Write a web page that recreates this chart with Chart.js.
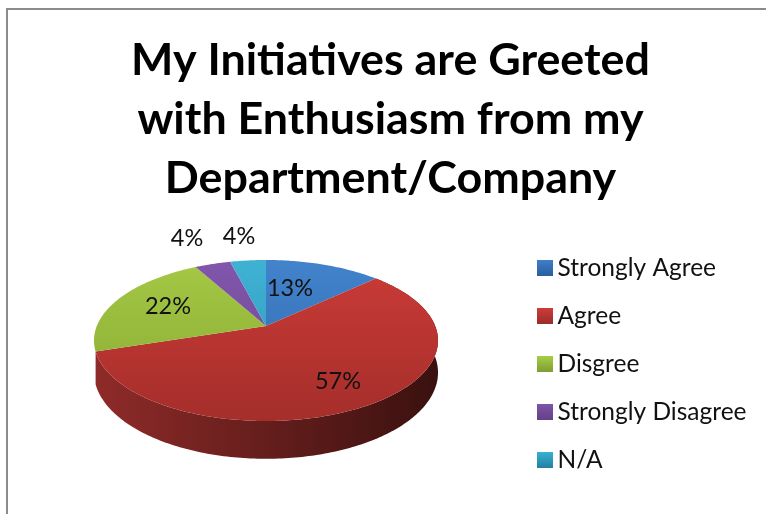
<!DOCTYPE html>
<html>
<head>
<meta charset="utf-8">
<style>
    html, body { margin: 0; padding: 0; background: #fff; overflow: hidden; }
    #frame { position: absolute; left: 6px; top: 8px; width: 900px; height: 900px; border: 2px solid #8b8b8b; }
    #chart { position: absolute; left: 0; top: 0; }
</style>
<script src="https://cdn.jsdelivr.net/npm/chart.js@4"></script>
</head>
<body>
<div id="frame"></div>
<canvas id="chart" width="781" height="514"></canvas>
<script>
const titleLines = ['My Initiatives are Greeted', 'with Enthusiasm from my', 'Department/Company'];
const categories = ['Strongly Agree', 'Agree', 'Disgree', 'Strongly Disagree', 'N/A'];
const percents = [13, 57, 22, 4, 4];

// top face gradient (back to front) and wall gradient (left to right) per slice
const topColors = [['#4283cc', '#2f69ac'], ['#cb3b37', '#a52e2b'], ['#a6c845', '#86a832'], ['#8156ab', '#6c4592'], ['#3fb2d4', '#2e93b3']];
const wallColors = [['#2a5585', '#16304d'], ['#8f2b29', '#3a110f'], ['#6d8528', '#3f4d16'], ['#4f3370', '#2c1c40'], ['#247a94', '#124555']];
const swatchColors = [['#3f7fcb', '#2a5f9f'], ['#d03d3a', '#9c2c2a'], ['#a9cf46', '#7f9f31'], ['#7f55a8', '#64408a'], ['#36b3d6', '#2582a0']];

// where each percentage sits on the canvas
const labelSpots = [[290, 288], [338, 381], [168, 306], [187, 238], [239, 236]];

// perspective view of the flat disc
const view = { cx: 266, cy: 326, a: 169.2, b: 77.9, k: 0.18, depth: 31 };

function project(angle, r, drop) {
    const u = Math.cos(angle) * r;
    const v = -Math.sin(angle) * r;
    const w = 1 + view.k * v;
    return [view.cx + view.a * u / w, view.cy - view.b * v / w + (drop ? view.depth / w : 0)];
}

function traceRim(ctx, start, end, drop) {
    const steps = Math.max(2, Math.ceil(Math.abs(end - start) * 60));
    for (let i = 0; i <= steps; i++) {
        const p = project(start + (end - start) * i / steps, 1, drop);
        ctx.lineTo(p[0], p[1]);
    }
}

const tiltedPie = {
    id: 'tiltedPie',
    beforeDatasetsDraw(chart) {
        const ctx = chart.ctx;
        const arcs = chart.getDatasetMeta(0).data;

        // walls first so the top faces cover the far side, front slices only
        arcs.forEach((arc, i) => {
            if (Math.sin((arc.startAngle + arc.endAngle) / 2) <= 0) return;
            const g = ctx.createLinearGradient(view.cx - 172, 0, view.cx + 172, 0);
            g.addColorStop(0, wallColors[i][0]);
            g.addColorStop(1, wallColors[i][1]);
            ctx.beginPath();
            traceRim(ctx, arc.startAngle, arc.endAngle, false);
            traceRim(ctx, arc.endAngle, arc.startAngle, true);
            ctx.closePath();
            ctx.fillStyle = g;
            ctx.fill();
        });

        arcs.forEach((arc, i) => {
            const g = ctx.createLinearGradient(0, view.cy - 66, 0, view.cy + 95);
            g.addColorStop(0, topColors[i][0]);
            g.addColorStop(1, topColors[i][1]);
            ctx.beginPath();
            ctx.moveTo(view.cx, view.cy);
            traceRim(ctx, arc.startAngle, arc.endAngle, false);
            ctx.closePath();
            ctx.fillStyle = g;
            ctx.fill();
        });

        // the stock flat arcs are not wanted
        return false;
    },
    afterDraw(chart) {
        const ctx = chart.ctx;
        ctx.save();
        ctx.font = '23.5px Lato';
        ctx.fillStyle = '#111';
        ctx.textAlign = 'center';
        ctx.textBaseline = 'middle';
        percents.forEach((p, i) => ctx.fillText(p + '%', labelSpots[i][0], labelSpots[i][1]));
        ctx.restore();
    },
    afterLayout(chart) {
        const legend = chart.legend;
        legend.left = 520.25;
        legend.right = 781;
        legend.top = 232;
        legend.bottom = 500;
    }
};

// legend squares with the same soft vertical shading as the slices
const swatches = swatchColors.map(c => {
    const s = document.createElement('canvas');
    s.width = 16;
    s.height = 16;
    const sctx = s.getContext('2d');
    const g = sctx.createLinearGradient(0, 0, 0, 16);
    g.addColorStop(0, c[0]);
    g.addColorStop(1, c[1]);
    sctx.fillStyle = g;
    sctx.fillRect(0, 0, 16, 16);
    return s;
});

new Chart(document.getElementById('chart'), {
    type: 'pie',
    data: {
        labels: categories,
        datasets: [{ data: percents, backgroundColor: swatchColors.map(c => c[0]), borderWidth: 0 }]
    },
    options: {
        responsive: false,
        animation: false,
        rotation: 0,
        plugins: {
            title: {
                display: true,
                text: titleLines,
                color: '#000',
                font: { family: 'Lato', size: 44.8, weight: 'bold', lineHeight: 1.32 },
                padding: { top: 31, bottom: 10 }
            },
            legend: {
                position: 'right',
                align: 'start',
                labels: {
                    color: '#111',
                    font: { family: 'Lato', size: 24.5, lineHeight: 1.2 },
                    usePointStyle: true,
                    boxWidth: 1.5,
                    padding: 23.5,
                    generateLabels: () => categories.map((name, i) => ({
                        text: name,
                        index: i,
                        pointStyle: swatches[i],
                        lineWidth: 0,
                        fontColor: '#111'
                    }))
                }
            },
            tooltip: { enabled: false }
        }
    },
    plugins: [tiltedPie]
});
</script>
</body>
</html>
